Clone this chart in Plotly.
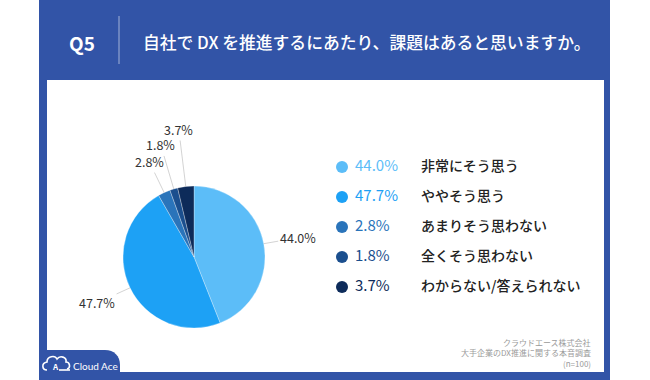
import math
import plotly.graph_objects as go

# ---- data ----
categories = ["非常にそう思う", "ややそう思う", "あまりそう思わない", "全くそう思わない", "わからない/答えられない"]
values = [44.0, 47.7, 2.8, 1.8, 3.7]
colors = ["#5CBDF8", "#1DA1F5", "#2A74BA", "#1B4F8E", "#0D2B5A"]
question = "Q5"
title_text = "自社で DX を推進するにあたり、課題はあると思いますか。"
notes = ["クラウドエース株式会社", "大手企業のDX推進に関する本音調査", "(n=100)"]
brand = "Cloud Ace"

# label offsets (pixels) from slice edge to label centre
label_dx = [34, -33, -15, -13, -7]
label_dy = [-6, 15, -31, -44, -57]

W, H = 650, 380
BLUE = "#3254A7"
FONT = "Noto Sans CJK JP"
CX, CY, R = 194, 257, 71   # pie centre / radius in pixels

fig = go.Figure()

fig.add_trace(go.Pie(
    values=values, labels=categories,
    marker=dict(colors=colors, line=dict(color="white", width=0.3)),
    sort=False, direction="clockwise", rotation=0,
    textinfo="none",
    domain=dict(x=[(CX - R) / W, (CX + R) / W], y=[(H - CY - R) / H, (H - CY + R) / H]),
    showlegend=False, hoverinfo="label+value",
))

# custom legend
idx = list(range(len(categories)))
fig.add_trace(go.Scatter(
    x=[342] * len(idx), y=idx, mode="markers",
    marker=dict(color=colors, size=12),
    xaxis="x2", yaxis="y2", showlegend=False, hoverinfo="skip",
))
fig.add_trace(go.Scatter(
    x=[355] * len(idx), y=idx, mode="text",
    text=[f"{v:.1f}%" for v in values], textposition="middle right",
    textfont=dict(color=colors, size=15, family=FONT),
    xaxis="x2", yaxis="y2", showlegend=False, hoverinfo="skip",
))
fig.add_trace(go.Scatter(
    x=[421] * len(idx), y=idx, mode="text",
    text=categories, textposition="middle right",
    textfont=dict(color="#222222", size=14, family=FONT, weight=500),
    xaxis="x2", yaxis="y2", showlegend=False, hoverinfo="skip",
))

shapes = [
    dict(type="rect", xref="x", yref="y", x0=39, x1=610, y0=0, y1=380,
         fillcolor=BLUE, line=dict(width=0), layer="below"),
    dict(type="rect", xref="x", yref="y", x0=47, x1=604, y0=80, y1=372,
         fillcolor="white", line=dict(width=0), layer="below"),
    dict(type="path", xref="x", yref="y",
         path="M 39 350 L 105 350 C 114 350 120 356 120 365 L 120 372 L 39 372 Z",
         fillcolor=BLUE, line=dict(width=0), layer="below"),
    dict(type="line", xref="x", yref="y", x0=119, x1=119, y0=16, y1=64,
         line=dict(color="rgba(255,255,255,0.55)", width=1), layer="below"),
    dict(type="path", xref="x", yref="y",
         path="M 47 370 C 42 370 41 363 47 362 C 47 356 55 355 57 359 C 60 355 67 357 66 362 C 70 362 71 368 67 369",
         line=dict(color="white", width=1.6), layer="above"),
    dict(type="line", xref="x", yref="y", x0=59, x1=70, y0=370, y1=370,
         line=dict(color="white", width=1.6), layer="above"),
]

annotations = [
    dict(x=82, y=42, xref="x", yref="y", text=question, showarrow=False,
         font=dict(family=FONT, size=19, color="white", weight="bold")),
    dict(x=141, y=42, xref="x", yref="y", text=title_text, showarrow=False,
         xanchor="left", font=dict(family=FONT, size=16.8, color="white", weight=500)),
    dict(x=55, y=366, xref="x", yref="y", text="A", showarrow=False,
         font=dict(family=FONT, size=8, color="white", weight="bold")),
    dict(x=71, y=366, xref="x", yref="y", text=brand, showarrow=False,
         xanchor="left", font=dict(family="Lato", size=10, color="white")),
]
for i, t in enumerate(notes):
    annotations.append(dict(x=593, y=342 + 10.5 * i, xref="x", yref="y", text=t,
                            showarrow=False, xanchor="right",
                            font=dict(family=FONT, size=8, color="#9a9a9a")))

# outside pie labels with leader lines, anchored at slice mid-angles
total = sum(values)
cum = 0.0
for v, dx, dy in zip(values, label_dx, label_dy):
    mid = (cum + v / 2) / total * 2 * math.pi
    cum += v
    ex = CX + R * math.sin(mid)
    ey = CY - R * math.cos(mid)
    annotations.append(dict(
        x=ex, y=ey, xref="x", yref="y", ax=dx, ay=dy, axref="pixel", ayref="pixel",
        text=f"{v:.1f}%", showarrow=True, arrowhead=0, arrowwidth=0.8,
        arrowcolor="#c8c8c8", standoff=0,
        font=dict(family=FONT, size=12.5, color="#333333"),
    ))

fig.update_layout(
    width=W, height=H,
    margin=dict(l=0, r=0, t=0, b=0),
    paper_bgcolor="white", plot_bgcolor="rgba(0,0,0,0)",
    xaxis=dict(domain=[0, 1], range=[0, W], visible=False, fixedrange=True),
    yaxis=dict(domain=[0, 1], range=[H, 0], visible=False, fixedrange=True),
    xaxis2=dict(domain=[0, 1], range=[0, W], visible=False, anchor="y2", fixedrange=True),
    yaxis2=dict(domain=[0, 1], range=[(H - 167) / 30, -167 / 30], visible=False,
                anchor="x2", fixedrange=True),
    shapes=shapes, annotations=annotations,
    font=dict(family=FONT),
)

fig.write_html("out.html", config={"displayModeBar": False},
               post_script="document.body.style.margin='0';")
